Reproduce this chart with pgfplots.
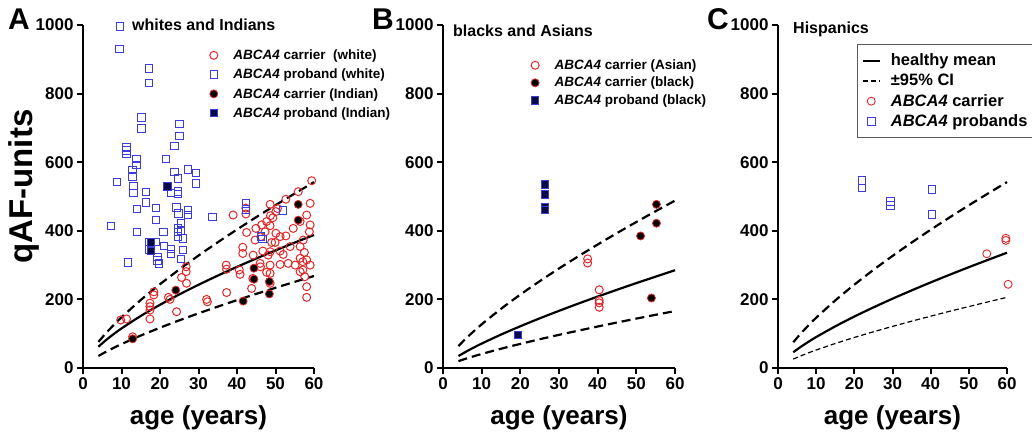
\documentclass[border=0pt]{standalone}
\usepackage{fontspec}
\setmainfont{Liberation Sans}
\usepackage{pgfplots}
\pgfplotsset{compat=1.18}
\definecolor{cred}{RGB}{225,40,40}
\definecolor{cblue}{RGB}{60,60,220}
\definecolor{cnavy}{RGB}{10,10,70}
\definecolor{cframe}{RGB}{90,90,90}
\pgfplotsset{
  panel/.style={
    scale only axis, height=343pt,
    xmin=0,xmax=60,ymin=0,ymax=1000,
    axis lines=left, axis line style={-, line width=2.2pt},
    xtick={0,10,...,60}, ytick={0,200,...,1000},
    tick align=outside, major tick length=6pt,
    tick style={black, line width=2pt},
    tick label style={font=\fontsize{17}{17}\selectfont\bfseries},
    /pgf/number format/assume math mode=true,
    /pgf/number format/1000 sep={},
    xlabel={age (years)},
    xlabel style={font=\fontsize{26}{26}\selectfont\bfseries, yshift=-9pt},
    clip=false,
    anchor=south west,
    legend cell align=left,
  },
  meanl/.style={black, line width=2.2pt, smooth, mark=none},
  cil/.style={black, line width=2.2pt, smooth, mark=none, dash pattern=on 9pt off 5pt},
  wcar/.style={only marks, mark=o, mark size=4pt, color=cred, draw=cred, line width=1pt},
  wpro/.style={only marks, mark=square, mark size=3.7pt, color=cblue, draw=cblue, line width=1pt},
  icar/.style={only marks, mark=*, mark size=4pt, draw=cred, fill=black, line width=0.8pt},
  ipro/.style={only marks, mark=square*, mark size=3.7pt, draw=cblue, fill=cnavy, line width=0.8pt},
}
\newcommand{\abca}{\textbf{\textit{ABCA4}}}
\newcommand{\legsp}{\hspace*{13.5pt}}
\newcommand{\legspc}{\hspace*{8pt}}
\begin{document}
\begin{tikzpicture}
\useasboundingbox (0,0) rectangle (1032pt,435pt);
% ---------------- Panel A ----------------
\begin{axis}[panel, width=231pt, at={(83pt,67pt)},
  ylabel={qAF-units},
  ylabel style={font=\fontsize{33}{33}\selectfont\bfseries, xshift=10pt, yshift=-11pt},
  legend style={at={(0.548,0.9345)}, anchor=north west, draw=none, fill=none,
    font=\fontsize{13.5}{15}\selectfont\bfseries, row sep=4pt, inner sep=0pt}]
\addplot[meanl, forget plot] coordinates {(4,62)(6,81.6)(8,99.1)(10,115.3)(15,151.7)(20,184.3)(25,214.4)(30,242.6)(35,269.3)(40,294.8)(45,319.2)(50,342.8)(55,365.6)(60,387.8)};
\addplot[cil, forget plot] coordinates {(4,76)(6,102)(8,125.6)(10,147.7)(15,198.2)(20,244.2)(25,287.1)(30,327.7)(35,366.5)(40,403.8)(45,439.8)(50,474.7)(55,508.7)(60,541.9)};
\addplot[cil, forget plot] coordinates {(4,35)(6,47.5)(8,58.9)(10,69.7)(15,94.6)(20,117.4)(25,138.9)(30,159.3)(35,178.9)(40,197.8)(45,216.1)(50,233.8)(55,251.2)(60,268.2)};
\addplot[wcar] coordinates {
(9.8,140)(11.3,143)(12.9,91)(17.4,189)(17.4,179)(17.4,169)(17.4,143)(18.4,222)(18.4,213)(22.2,206)(22.6,200)(24.3,164)(25.6,264)(26.8,295)(26.8,281)(26.9,247)(32.1,200)(32.3,193)(37.2,300)(37.3,288)(37.3,220)(40.6,286)(40.8,273)(41.5,352)(41.5,334)
(48.6,477)(50.5,465)(50.1,456)(48.7,444)(49.3,438)(47.7,427)(46.4,417)(48.6,415)(44.9,407)(47.3,397)(42.5,395)(50.1,393)(51.2,383)(44.7,373)(49.9,366)(49.0,366)(52.7,385)(54.6,407)(56.4,427)(58.1,446)(59.0,417)(58.8,397)(57.2,373)(53.8,354)(56.4,354)(44.2,329)(46.7,341)(48.6,339)(51.2,341)(48.1,329)(52.0,331)(57.5,337)(58.1,315)(56.4,320)(59.0,300)(55.1,300)(53.3,305)(51.2,302)(48.6,300)(46.1,295)(47.7,279)(56.4,281)
(59.4,546)(59.0,480)(55.9,514)(52.7,492)(58.1,206)(58.1,237)(57.6,266)(57.1,286)(57.1,310)(48.6,247)(48.6,276)(43.8,232)(44.1,261)(46.0,305)(39.0,446)(42.3,466)(42.3,449)(46.2,383)};
\addlegendentry{\legsp\abca\ carrier\ \ (white)}
\addplot[wpro] coordinates {
(9.6,996)(9.5,930)(17.1,873)(17.1,831)(15.2,730)(15.2,698)(25.1,711)(25.1,676)(23.8,647)(21.5,610)(11.3,643)(11.3,634)(11.3,624)(13.9,610)(13.9,591)(12.9,577)(12.9,558)(23.8,572)(27.3,579)(29.3,569)(24.7,553)(8.9,542)(13.1,531)(13.1,511)(16.3,513)(22.9,511)(24.7,514)(24.7,507)(29.3,538)(16.3,482)(14.1,463)(18.9,466)(24.3,468)(24.8,451)(27.3,461)(27.3,446)(18.9,431)(25.4,422)(7.2,414)(14.1,397)(20.9,397)(24.7,407)(24.7,397)(25.5,400)(24.7,383)(25.9,378)(17.2,368)(17.2,345)(18.9,368)(21.0,356)(19.3,323)(19.3,313)(19.7,305)(22.9,347)(22.9,332)(26.0,344)(25.4,317)(11.7,307)(33.6,441)(42.3,480)(42.3,462)(46.2,383)(46.6,376)(52.0,459)};
\addlegendentry{\legsp\abca\ proband (white)}
\addplot[icar] coordinates {(12.9,85)(24.1,227)(41.6,195)(44.4,291)(44.4,259)(48.4,252)(48.4,216)(55.9,477)(55.9,431)};
\addlegendentry{\legsp\abca\ carrier (Indian)}
\addplot[ipro] coordinates {(17.6,366)(17.6,341)(21.9,529)};
\addlegendentry{\legsp\abca\ proband (Indian)}
\end{axis}
% ---------------- Panel B ----------------
\begin{axis}[panel, width=232pt, at={(443pt,67pt)},
  legend style={at={(0.379,0.9055)}, anchor=north west, draw=none, fill=none,
    font=\fontsize{13.5}{15}\selectfont\bfseries, row sep=2.3pt, inner sep=0pt}]
\addplot[meanl, forget plot] coordinates {(4,35)(6,47.9)(8,59.9)(10,71.2)(15,97.4)(20,121.7)(25,144.7)(30,166.6)(35,187.8)(40,208.2)(45,228.1)(50,247.5)(55,266.4)(60,285)};
\addplot[cil, forget plot] coordinates {(4,64)(6,86.8)(8,107.6)(10,127.3)(15,172.5)(20,214)(25,253)(30,290.1)(35,325.7)(40,360)(45,393.3)(50,425.6)(55,457.1)(60,488)};
\addplot[cil, forget plot] coordinates {(4,20)(6,27.5)(8,34.4)(10,40.9)(15,56.2)(20,70.3)(25,83.8)(30,96.6)(35,108.9)(40,120.9)(45,132.6)(50,144)(55,155.1)(60,166)};
\addplot[wcar] coordinates {(37.4,318)(37.4,306)(40.4,228)(40.4,197)(40.4,190)(40.4,177)};
\addlegendentry{\legsp\abca\ carrier (Asian)}
\addplot[icar] coordinates {(55.2,477)(55.2,422)(51.1,385)(53.9,204)};
\addlegendentry{\legsp\abca\ carrier (black)}
\addplot[ipro] coordinates {(26.4,535)(26.4,506)(26.4,468)(26.4,461)(19.4,97)};
\addlegendentry{\legsp\abca\ proband (black)}
\end{axis}
% ---------------- Panel C ----------------
\begin{axis}[panel, width=229pt, at={(778pt,67pt)},
  legend style={at={(0.345,0.945)}, anchor=north west, draw=cframe, fill=white, line width=1.2pt,
    font=\fontsize{16.5}{18}\selectfont\bfseries, row sep=3pt, inner xsep=4pt, inner ysep=7.5pt}]
\addplot[meanl] coordinates {(4,46)(6,62)(8,76.5)(10,90.2)(15,121.4)(20,150)(25,176.7)(30,202)(35,226.2)(40,249.5)(45,272)(50,293.9)(55,315.2)(60,336.1)};
\addlegendentry{\legspc healthy mean}
\addplot[cil, forget plot] coordinates {(4,75)(6,100.9)(8,124.4)(10,146.5)(15,196.9)(20,242.9)(25,286)(30,326.7)(35,365.6)(40,403.1)(45,439.3)(50,474.4)(55,508.6)(60,542)};
\addplot[black, line width=1.2pt, smooth, mark=none, dash pattern=on 5pt off 3pt, forget plot] coordinates {(4,26)(6,35.4)(8,44.2)(10,52.4)(15,71.4)(20,89)(25,105.5)(30,121.3)(35,136.4)(40,151.1)(45,165.4)(50,179.2)(55,192.7)(60,206)};
\addlegendimage{black, line width=1.6pt, dash pattern=on 5pt off 3pt}
\addlegendentry{\legspc ±95\% CI}
\addplot[wcar, line width=0.9pt] coordinates {(54.7,333)(59.7,378)(59.7,372)(60.3,244)};
\addlegendentry{\legspc\abca\ carrier}
\addplot[wpro, line width=0.9pt] coordinates {(22.0,547)(22.0,525)(29.5,485)(29.5,474)(40.4,520)(40.4,448)};
\addlegendentry{\legspc\abca\ probands}
\end{axis}
% ---------------- texts ----------------
\node[font=\fontsize{30}{30}\selectfont\bfseries] at (19pt,416pt) {A};
\node[font=\fontsize{30}{30}\selectfont\bfseries] at (383pt,416pt) {B};
\node[font=\fontsize{30}{30}\selectfont\bfseries] at (718pt,416pt) {C};
\node[anchor=west, inner sep=0pt, font=\fontsize{16}{16}\selectfont\bfseries] at (132pt,410pt) {whites and Indians};
\node[anchor=west, inner sep=0pt, font=\fontsize{16}{16}\selectfont\bfseries] at (453pt,404.5pt) {blacks and Asians};
\node[anchor=west, inner sep=0pt, font=\fontsize{16}{16}\selectfont\bfseries] at (793pt,405.5pt) {Hispanics};
\end{tikzpicture}
\end{document}
